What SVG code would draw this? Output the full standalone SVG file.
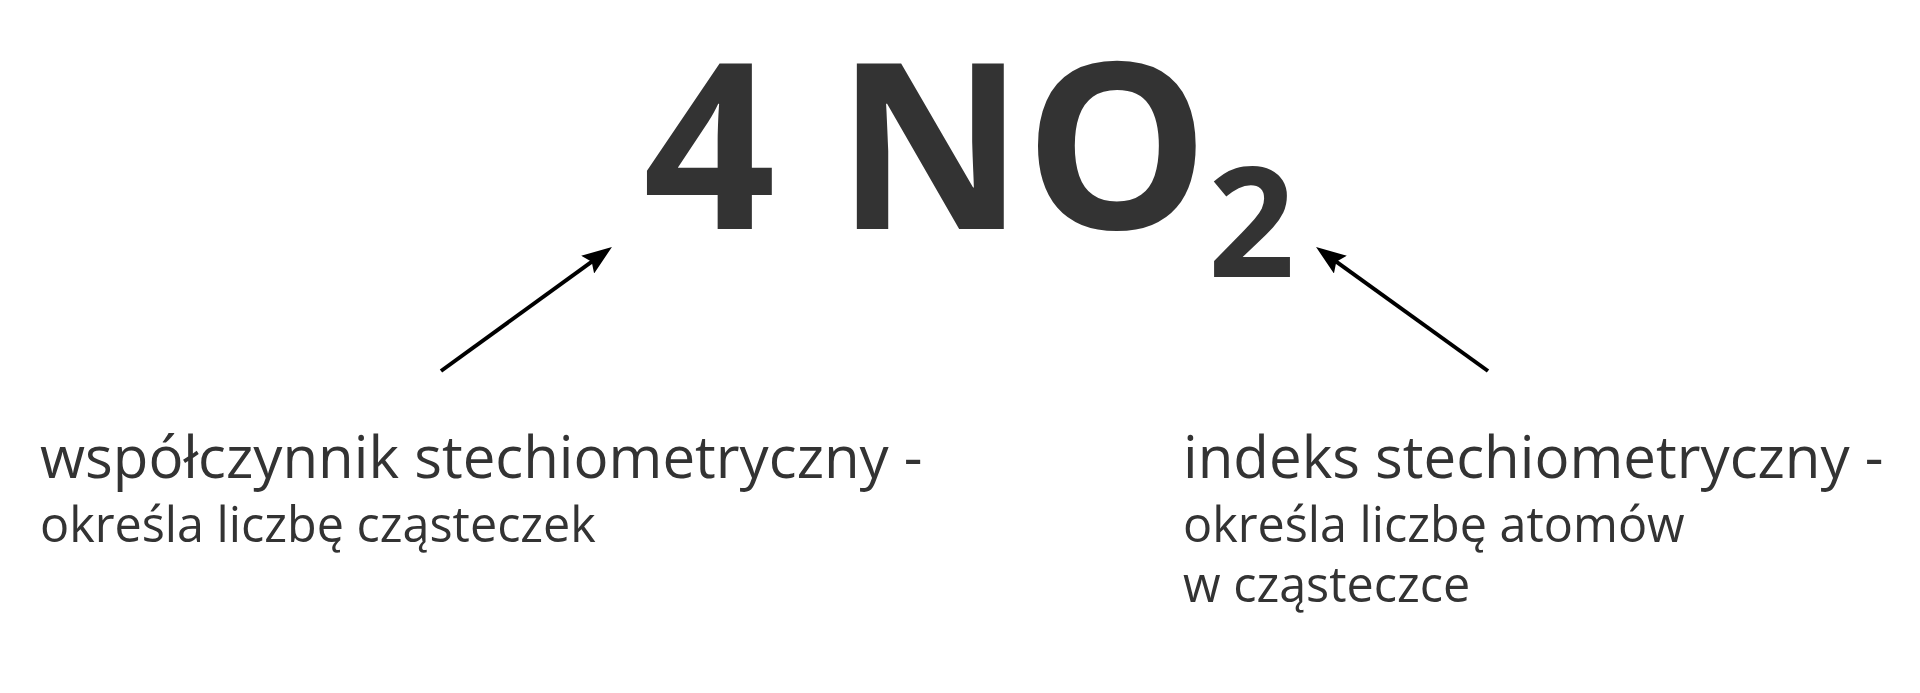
<svg xmlns="http://www.w3.org/2000/svg" width="1920" height="693" viewBox="0 0 1920 693">
<style>
.formula{font-family:"Open Sans","Liberation Sans",sans-serif;font-weight:700;fill:#333333}
.lbl{font-family:"Open Sans","Liberation Sans",sans-serif;font-weight:400;fill:#333333}
.big{font-size:58.2px}
.small{font-size:48.5px}
.conn{stroke:#000;stroke-width:4;fill:none}
</style>
<defs>
<marker id="ah" markerUnits="userSpaceOnUse" viewBox="0 0 30 22" refX="15" refY="11" markerWidth="30" markerHeight="22" orient="auto">
<path d="M0,0 L30,11 L0,22 L5,11 z" fill="#000"/>
</marker>
</defs>
<rect width="1920" height="693" fill="#fff"/>
<g id="formula">
<text class="formula" x="643" y="229" font-size="232">4 NO</text>
<text class="formula" x="1208" y="277" font-size="152">2</text>
</g>
<g id="label-left">
<text class="lbl big" x="40" y="478">współczynnik stechiometryczny -</text>
<text class="lbl small" x="40" y="542">określa liczbę cząsteczek</text>
</g>
<g id="label-right">
<text class="lbl big" x="1183" y="478">indeks stechiometryczny -</text>
<text class="lbl small" x="1183" y="542">określa liczbę atomów</text>
<text class="lbl small" x="1183" y="602">w cząsteczce</text>
</g>
<g id="connectors">
<line class="conn" x1="441" y1="371" x2="599.8" y2="255.8" marker-end="url(#ah)"/>
<line class="conn" x1="1488" y1="371" x2="1328.2" y2="255.8" marker-end="url(#ah)"/>
</g>
</svg>
